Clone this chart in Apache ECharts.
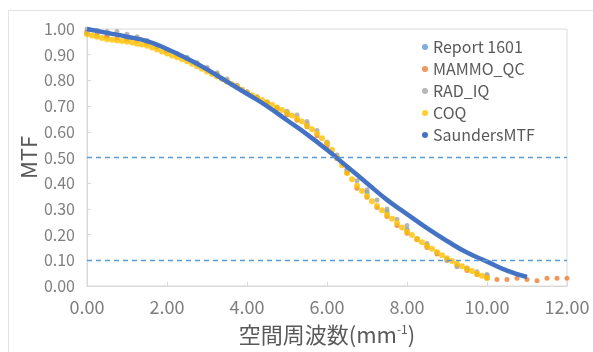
<!DOCTYPE html>
<html>
<head>
<meta charset="utf-8">
<script src="https://cdn.jsdelivr.net/npm/echarts@6/dist/echarts.min.js"></script>
<style>html,body{margin:0;padding:0;background:#fff}#c{width:593px;height:352px}</style>
</head>
<body>
<div id="c"></div>
<script>
// ---- data ----
const xTicks = [0, 2, 4, 6, 8, 10, 12];
const yTicks = [0, 0.1, 0.2, 0.3, 0.4, 0.5, 0.6, 0.7, 0.8, 0.9, 1.0];
const thresholds = [0.5, 0.1];

const report1601Step = 0.5;
const report1601 = [0.985,0.975,0.965,0.95,0.915,0.885,0.845,0.8,0.755,0.715,0.675,0.63,0.555,0.45,0.365,0.29,0.22,0.16,0.105,0.068,0.04];

const mammoStep = 0.25;
const mammoQC = [0.99,0.98,0.97,0.965,0.96,0.955,0.945,0.93,0.915,0.9,0.885,0.865,0.845,0.825,0.8,0.78,0.755,0.735,0.71,0.69,0.665,0.645,0.62,0.585,0.545,0.495,0.44,0.38,0.345,0.305,0.27,0.235,0.205,0.18,0.15,0.125,0.1,0.08,0.06,0.045,0.03,0.025,0.025,0.03,0.025,0.02,0.03,0.03,0.03];

const radStep = 0.25;
const radIQ = [1.0,0.995,0.99,0.99,0.98,0.97,0.955,0.935,0.92,0.905,0.89,0.87,0.85,0.83,0.805,0.78,0.755,0.735,0.715,0.695,0.68,0.665,0.64,0.605,0.56,0.51,0.455,0.41,0.375,0.335,0.3,0.26,0.235,0.185,0.165,0.13,0.1,0.075,0.07,0.055,0.045];

const coqStep = 0.125;
const coq = [0.98,0.975,0.97,0.965,0.96,0.958,0.955,0.953,0.95,0.947,0.943,0.94,0.935,0.928,0.92,0.912,0.905,0.897,0.89,0.882,0.875,0.865,0.855,0.845,0.835,0.825,0.815,0.805,0.795,0.785,0.775,0.765,0.752,0.742,0.733,0.724,0.715,0.705,0.695,0.685,0.673,0.663,0.652,0.64,0.625,0.61,0.593,0.575,0.555,0.53,0.5,0.47,0.44,0.415,0.39,0.37,0.35,0.33,0.312,0.295,0.278,0.262,0.245,0.228,0.212,0.198,0.183,0.17,0.157,0.145,0.132,0.12,0.108,0.097,0.087,0.077,0.067,0.058,0.048,0.04,0.032];

const saundersStep = 0.5;
const saunders = [1.0,0.985,0.97,0.953,0.922,0.885,0.843,0.795,0.748,0.70,0.645,0.59,0.53,0.465,0.40,0.335,0.28,0.225,0.175,0.13,0.095,0.06,0.035];

function pairs(step, vals){ return vals.map((v,i)=>[+(i*step).toFixed(3), v]); }

const FONT = "'Noto Sans CJK JP', 'Noto Sans', sans-serif";
const chart = echarts.init(document.getElementById('c'), null, {renderer:'canvas'});

function dots(name, color, step, vals, size){
  return { name, type:'scatter', data:pairs(step, vals), symbol:'circle', symbolSize:size,
    itemStyle:{color}, silent:true, z:2 };
}

chart.setOption({
  animation:false,
  textStyle:{fontFamily:FONT},
  graphic:[{type:'rect', shape:{x:8.5,y:10.5,width:640,height:400}, style:{fill:'none', stroke:'#e3e3e3', lineWidth:1}, z:-10}],
  grid:{left:87, right:26, top:29, bottom:66, show:true, borderColor:'#d9d9d9', borderWidth:1},
  legend:{orient:'vertical', left:417, top:34, itemWidth:6, itemHeight:6, itemGap:6, icon:'circle',
    textStyle:{fontSize:16, color:'#595959', fontFamily:FONT, lineHeight:16},
    data:['Report 1601','MAMMO_QC','RAD_IQ','COQ','SaundersMTF']},
  xAxis:{type:'value', min:xTicks[0], max:xTicks[xTicks.length-1], interval:2,
    name:'空間周波数(mm{sup|-1})', nameLocation:'middle', nameGap:37,
    nameTextStyle:{fontSize:22, color:'#595959', fontFamily:FONT, rich:{sup:{fontSize:12, color:'#595959', verticalAlign:'top', padding:[0,0,12,0]}}},
    axisLine:{lineStyle:{color:'#d9d9d9'}}, axisTick:{show:true, inside:true, length:4, lineStyle:{color:'#d9d9d9'}},
    axisLabel:{fontSize:18, color:'#7f7f7f', margin:12, formatter:v=>v.toFixed(2)}, splitLine:{show:false}},
  yAxis:{type:'value', min:yTicks[0], max:yTicks[yTicks.length-1], interval:0.1,
    name:'MTF', nameLocation:'middle', nameGap:47, nameMoveOverlap:false,
    nameTextStyle:{fontSize:22, color:'#595959', fontFamily:FONT},
    axisLine:{show:true, lineStyle:{color:'#d9d9d9'}}, axisTick:{show:true, inside:true, length:4, lineStyle:{color:'#d9d9d9'}},
    axisLabel:{fontSize:16, color:'#7f7f7f', margin:12, formatter:v=>v.toFixed(2)}, splitLine:{show:false}},
  series:[
    Object.assign(dots('Report 1601','#5b9bd5',report1601Step,report1601,5),{
      markLine:{silent:true, symbol:'none', label:{show:false},
        lineStyle:{color:'#5b9bd5', type:[5,4], width:1.3},
        data:thresholds.map(t=>({yAxis:t}))}}),
    dots('MAMMO_QC','#ed7d31',mammoStep,mammoQC,5),
    dots('RAD_IQ','#a5a5a5',radStep,radIQ,5),
    dots('COQ','#ffc000',coqStep,coq,6),
    { name:'SaundersMTF', type:'line', data:pairs(saundersStep,saunders), smooth:true, showSymbol:false,
      symbol:'circle', symbolSize:6, itemStyle:{color:'#4472c4'}, lineStyle:{color:'#4472c4', width:4.5}, z:3 }
  ]
});
</script>
</body>
</html>
